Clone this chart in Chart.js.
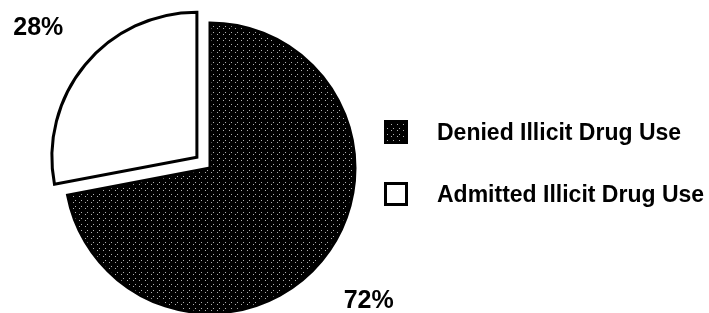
<!DOCTYPE html>
<html>
<head>
<meta charset="utf-8">
<script src="https://cdn.jsdelivr.net/npm/chart.js@4.4.1/dist/chart.umd.min.js"></script>
<style>
html,body{margin:0;padding:0;background:#fff;}
#wrap{position:relative;width:709px;height:313px;}
canvas{display:block;}
</style>
</head>
<body>
<div id="wrap"><canvas id="c" width="709" height="313"></canvas></div>
<script>
const categories = ["Denied Illicit Drug Use", "Admitted Illicit Drug Use"];
const shares = [72, 28];
const percentLabels = ["72%", "28%"];
const explode = [0, 17];

function makeHatch() {
  const t = document.createElement('canvas');
  t.width = 6; t.height = 6;
  const g = t.getContext('2d');
  g.fillStyle = '#000';
  g.fillRect(0, 0, 6, 6);
  g.fillStyle = '#b0b0b0';
  g.fillRect(1, 4, 1, 1);
  g.fillRect(3, 2, 1, 1);
  return document.getElementById('c').getContext('2d').createPattern(t, 'repeat');
}
const hatch = makeHatch();
const fills = [hatch, '#ffffff'];

const FONT = '"Liberation Sans", Arial, Helvetica, sans-serif';

// push exploded slices outward along their mid-angle
const explodePlugin = {
  id: 'explode',
  afterDatasetsUpdate(chart) {
    const meta = chart.getDatasetMeta(0);
    meta.data.forEach((arc, i) => {
      const mid = (arc.startAngle + arc.endAngle) / 2;
      arc.x += Math.cos(mid) * explode[i];
      arc.y += Math.sin(mid) * explode[i];
    });
  }
};

const labelPlugin = {
  id: 'pctLabels',
  afterDatasetsDraw(chart) {
    const ctx = chart.ctx;
    const meta = chart.getDatasetMeta(0);
    const fs = 25;
    ctx.save();
    ctx.fillStyle = '#000';
    ctx.font = 'bold ' + fs + 'px ' + FONT;
    ctx.textAlign = 'center';
    ctx.textBaseline = 'alphabetic';
    meta.data.forEach((arc, i) => {
      const mid = (arc.startAngle + arc.endAngle) / 2;
      const d = arc.outerRadius * 1.42;
      ctx.fillText(percentLabels[i], arc.x + Math.cos(mid) * d, arc.y + Math.sin(mid) * d + fs * 0.36);
    });
    ctx.restore();
  }
};

const legendPlugin = {
  id: 'sideLegend',
  afterDraw(chart) {
    const ctx = chart.ctx;
    const x0 = 384, size = 24, rows = [132, 194];
    const fs = 23;
    ctx.save();
    ctx.font = 'bold ' + fs + 'px ' + FONT;
    ctx.textBaseline = 'alphabetic';
    ctx.textAlign = 'left';
    categories.forEach((name, i) => {
      const cy = rows[i];
      ctx.fillStyle = fills[i];
      ctx.fillRect(x0, cy - size / 2, size, size);
      ctx.lineWidth = 3;
      ctx.strokeStyle = '#000';
      ctx.strokeRect(x0 + 1.5, cy - size / 2 + 1.5, size - 3, size - 3);
      ctx.fillStyle = '#000';
      ctx.fillText(name, 437, cy + fs * 0.36);
    });
    ctx.restore();
  }
};

new Chart(document.getElementById('c'), {
  type: 'pie',
  data: {
    labels: categories,
    datasets: [{
      data: shares,
      backgroundColor: fills,
      borderColor: '#000',
      borderWidth: 3,
      borderJoinStyle: 'miter'
    }]
  },
  options: {
    responsive: false,
    animation: false,
    radius: 145,
    layout: { padding: { left: 0, right: 289, top: 23, bottom: 0 } },
    plugins: {
      legend: { display: false },
      tooltip: { enabled: false }
    }
  },
  plugins: [explodePlugin, labelPlugin, legendPlugin]
});
</script>
</body>
</html>
